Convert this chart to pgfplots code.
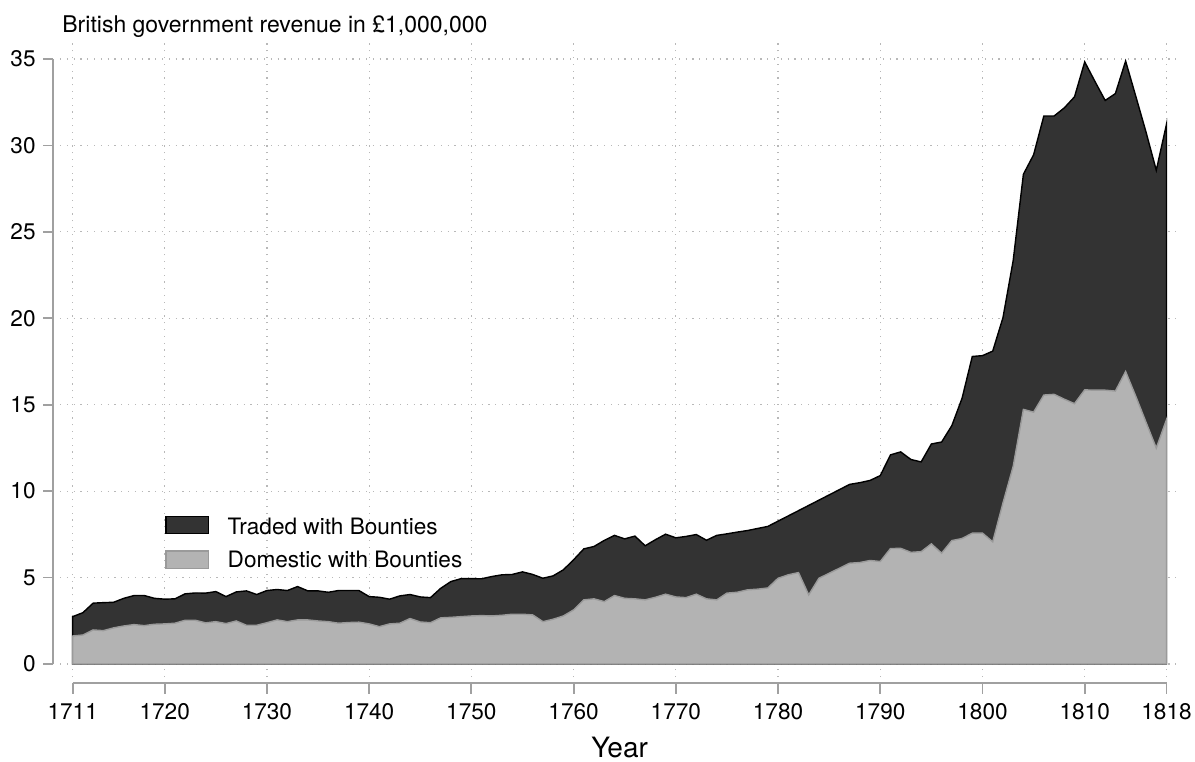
\documentclass[border=0pt]{standalone}
\usepackage{fontspec}
\setmainfont{TeX Gyre Heros}
\usepackage{pgfplots}
\pgfplotsset{compat=1.18}
\usepackage{pgfplotstable}
\definecolor{traded}{HTML}{333333}
\definecolor{domestic}{HTML}{B3B3B3}
\definecolor{domline}{HTML}{9A9A9A}
\definecolor{axgray}{HTML}{A0A0A0}
\definecolor{gridgray}{HTML}{B8B8B8}

\pgfplotstableread{
year total
1711 2.74
1712 2.97
1713 3.52
1714 3.55
1715 3.57
1716 3.80
1717 3.96
1718 3.96
1719 3.80
1720 3.75
1721 3.77
1722 4.06
1723 4.11
1724 4.10
1725 4.19
1726 3.90
1727 4.17
1728 4.23
1729 4.02
1730 4.25
1731 4.31
1732 4.25
1733 4.48
1734 4.23
1735 4.23
1736 4.15
1737 4.25
1738 4.25
1739 4.25
1740 3.90
1741 3.86
1742 3.75
1743 3.94
1744 4.02
1745 3.88
1746 3.84
1747 4.38
1748 4.77
1749 4.94
1750 4.94
1751 4.93
1752 5.06
1753 5.16
1754 5.18
1755 5.33
1756 5.18
1757 4.96
1758 5.10
1759 5.45
1760 6.03
1761 6.66
1762 6.80
1763 7.15
1764 7.44
1765 7.24
1766 7.40
1767 6.84
1768 7.19
1769 7.51
1770 7.30
1771 7.38
1772 7.49
1773 7.16
1774 7.44
1775 7.53
1776 7.63
1777 7.72
1778 7.84
1779 7.96
1787 10.39
1788 10.49
1789 10.62
1790 10.90
1791 12.10
1792 12.27
1793 11.83
1794 11.69
1795 12.73
1796 12.84
1797 13.79
1798 15.37
1799 17.79
1800 17.84
1801 18.10
1802 20.03
1803 23.33
1804 28.33
1805 29.46
1806 31.70
1807 31.70
1808 32.17
1809 32.81
1810 34.83
1811 33.70
1812 32.60
1813 33.00
1814 34.88
1815 32.83
1816 30.76
1817 28.56
1818 31.23
}\totaltab

\pgfplotstableread{
year domestic
1711 1.62
1712 1.68
1713 1.97
1714 1.93
1715 2.09
1716 2.20
1717 2.28
1718 2.22
1719 2.30
1720 2.32
1721 2.36
1722 2.53
1723 2.53
1724 2.38
1725 2.45
1726 2.34
1727 2.49
1728 2.24
1729 2.24
1730 2.39
1731 2.55
1732 2.45
1733 2.55
1734 2.55
1735 2.49
1736 2.45
1737 2.36
1738 2.40
1739 2.42
1740 2.32
1741 2.16
1742 2.32
1743 2.36
1744 2.63
1745 2.43
1746 2.39
1747 2.67
1748 2.70
1749 2.74
1750 2.78
1751 2.80
1752 2.78
1753 2.82
1754 2.88
1755 2.88
1756 2.84
1757 2.45
1758 2.59
1759 2.78
1760 3.13
1761 3.71
1762 3.77
1763 3.61
1764 3.96
1765 3.80
1766 3.77
1767 3.71
1768 3.86
1769 4.04
1770 3.88
1771 3.84
1772 4.04
1773 3.77
1774 3.71
1775 4.10
1776 4.15
1777 4.29
1778 4.33
1779 4.40
1780 4.96
1781 5.16
1782 5.29
1783 4.00
1784 4.96
1785 5.25
1786 5.54
1787 5.83
1788 5.87
1789 5.99
1790 5.93
1791 6.68
1792 6.69
1793 6.46
1794 6.50
1795 6.95
1796 6.41
1797 7.14
1798 7.26
1799 7.57
1800 7.57
1801 7.07
1802 9.31
1803 11.43
1804 14.73
1805 14.57
1806 15.56
1807 15.60
1808 15.32
1809 15.06
1810 15.86
1811 15.84
1812 15.84
1813 15.79
1814 16.92
1815 15.48
1816 13.98
1817 12.49
1818 14.14
}\domtab

\begin{document}
\begin{tikzpicture}
\useasboundingbox (0,0) rectangle (597.5pt,380.5pt);
\begin{axis}[
  at={(30pt,42pt)}, anchor=south west,
  scale only axis, width=560pt, height=317pt,
  xmin=1709.758, xmax=1819.32, ymin=-0.752, ymax=35.926,
  axis line style={draw=none},
  xtick={1711,1720,1730,1740,1750,1760,1770,1780,1790,1800,1810,1818},
  xticklabels={1711,1720,1730,1740,1750,1760,1770,1780,1790,1800,1810,1818},
  ytick={0,5,10,15,20,25,30,35},
  major tick length=0pt,
  grid=major,
  major grid style={gridgray, line width=0.6pt, dash pattern=on 0.6pt off 2.8pt},
  xticklabel style={anchor=base, inner sep=0pt, yshift=-21.15pt, font=\fontsize{11.3}{13}\selectfont},
  yticklabel style={anchor=east, inner sep=0pt, xshift=-12pt, font=\fontsize{11.3}{13}\selectfont},
  /pgf/number format/assume math mode=true,
  clip=false,
]
\addplot[fill=traded, draw=black, line width=0.7pt] table[x=year, y=total] {\totaltab} \closedcycle;
\addplot[fill=domestic, draw=domline, line width=0.7pt] table[x=year, y=domestic] {\domtab} \closedcycle;
% offset axis lines
\draw[axgray, line width=0.9pt] ([yshift=-3.15pt]axis cs:1711,-0.752) -- ([yshift=-3.15pt]axis cs:1818,-0.752);
\draw[axgray, line width=0.9pt] ([xshift=-3.35pt]axis cs:1709.758,0) -- ([xshift=-3.35pt]axis cs:1709.758,35);
\pgfplotsinvokeforeach{1711,1720,1730,1740,1750,1760,1770,1780,1790,1800,1810,1818}{
  \draw[axgray, line width=0.9pt] ([yshift=-3.15pt]axis cs:#1,-0.752) -- ([yshift=-8.5pt]axis cs:#1,-0.752);
}
\pgfplotsinvokeforeach{0,5,10,15,20,25,30,35}{
  \draw[axgray, line width=0.9pt] ([xshift=-3.35pt]axis cs:1709.758,#1) -- ([xshift=-8.5pt]axis cs:1709.758,#1);
}
\end{axis}
% title
\node[anchor=base west, inner sep=0pt, font=\fontsize{11.5}{13}\selectfont] at (31pt,364.25pt) {British government revenue in £1,000,000};
% x label
\node[anchor=base, inner sep=0pt, font=\fontsize{14}{16}\selectfont] at (309.8pt,1.6pt) {Year};
% legend
\draw[fill=traded, draw=black, line width=0.7pt] (83pt,113.85pt) rectangle (104.15pt,122.15pt);
\node[anchor=base west, inner sep=0pt, font=\fontsize{11.3}{13}\selectfont] at (113.65pt,113.35pt) {Traded with Bounties};
\draw[fill=domestic, draw=domline, line width=0.7pt] (83pt,96.35pt) rectangle (104.15pt,105pt);
\node[anchor=base west, inner sep=0pt, font=\fontsize{11.3}{13}\selectfont] at (113.65pt,96.5pt) {Domestic with Bounties};
\end{tikzpicture}
\end{document}
